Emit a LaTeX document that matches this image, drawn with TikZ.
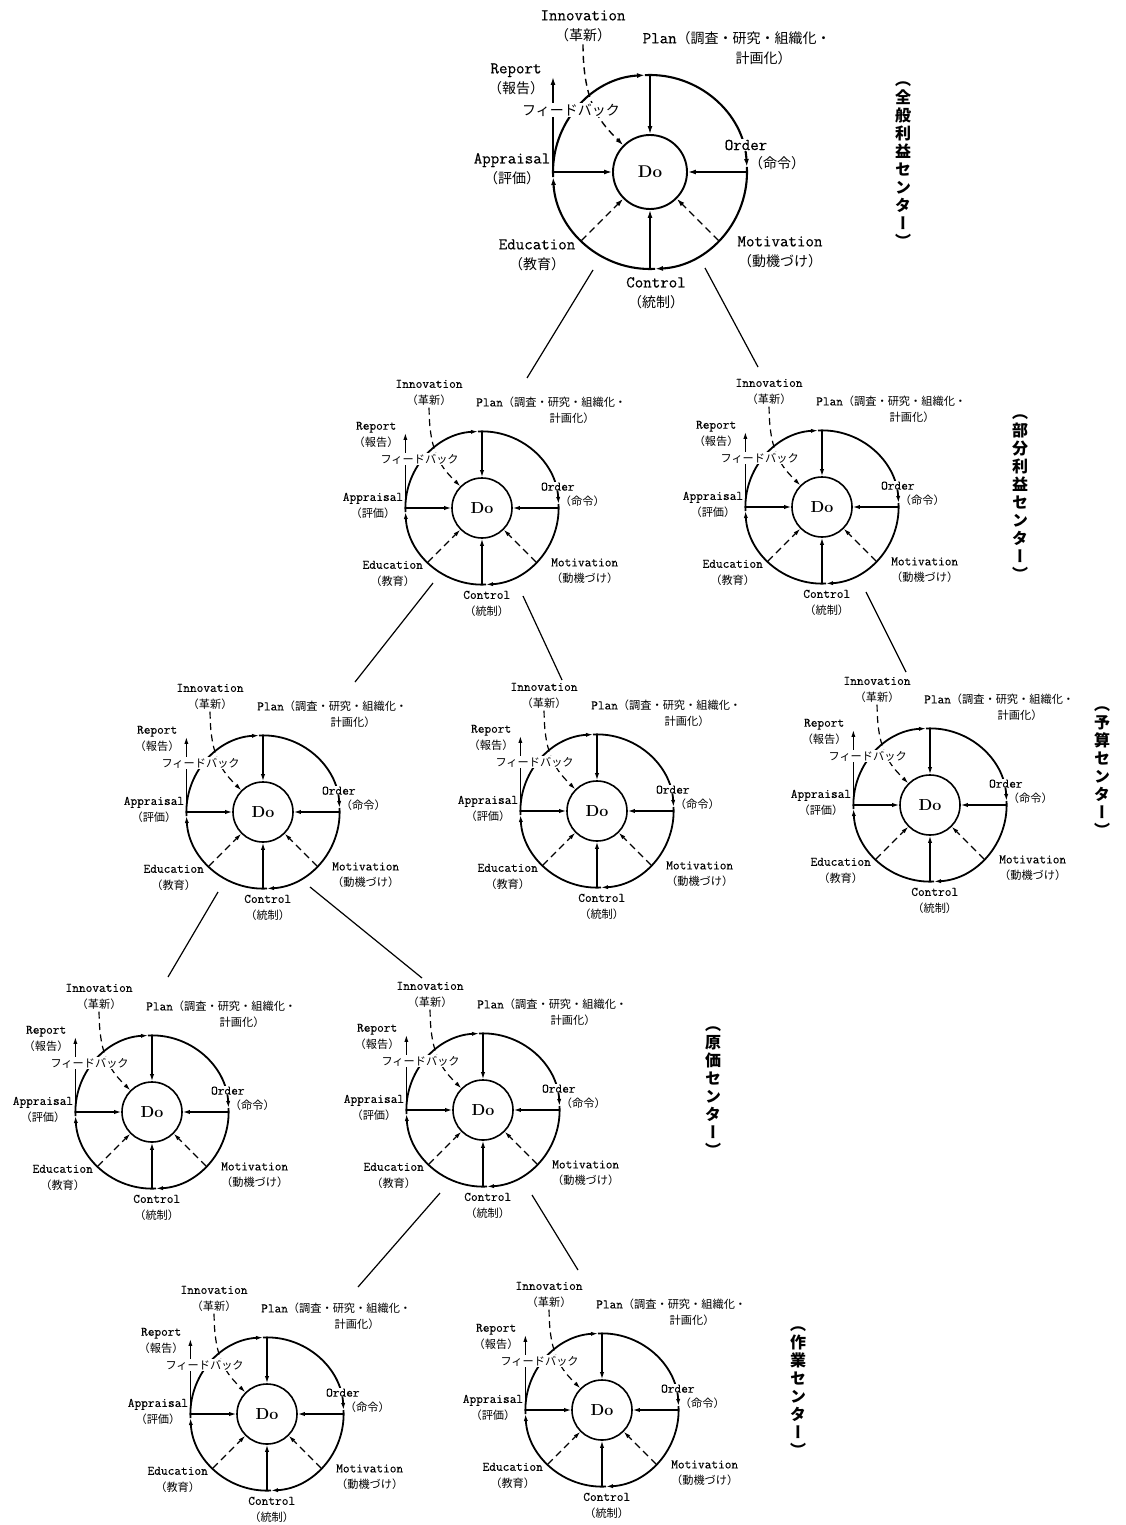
\documentclass[tikz,border=0pt]{standalone}
\usepackage{fontspec}
\usetikzlibrary{arrows.meta}

\newfontfamily\latfont{Latin Modern Mono}[FakeBold=0.4]
\newfontfamily\jpfont{Noto Sans CJK JP}
\newfontfamily\vtfont{Noto Sans CJK JP}[RawFeature=+vert]

\newcommand{\jpsize}{\fontsize{11.2}{16.5}\selectfont}
\newcommand{\jp}[1]{{\jpfont\jpsize #1}}

\tikzset{
    bigunit/.style={
        line width=1.4pt,
        >={Latex[length=8pt,width=5pt]},
        rim/.style={line width=2.1pt},
        do/.style={circle, draw, line width=1.9pt, inner sep=0pt, minimum size=74pt,
            font=\rmfamily\bfseries\fontsize{17}{20}\selectfont},
        every node/.append style={font=\latfont\fontsize{16.5}{20}\selectfont, align=center, inner sep=2pt},
        /utils/exec={\renewcommand{\jpsize}{\fontsize{14}{20}\selectfont}},
    },
    smallunit/.style={
        scale=0.79,
        line width=1.2pt,
        >={Latex[length=7pt,width=4.2pt]},
        rim/.style={line width=1.8pt},
        do/.style={circle, draw, line width=1.6pt, inner sep=0pt, minimum size=60pt,
            font=\rmfamily\bfseries\fontsize{16}{19}\selectfont},
        every node/.append style={font=\latfont\fontsize{13}{16.5}\selectfont, align=center, inner sep=1.5pt},
        /utils/exec={\renewcommand{\jpsize}{\fontsize{11.2}{16.5}\selectfont}},
    },
    broken/.style={dash pattern=on 7pt off 4.5pt},
    vtag/.style={font=\vtfont\bfseries\fontsize{16}{18}\selectfont, align=center, inner sep=0pt},
    branch/.style={line width=1.2pt},
}

% one Plan-Do-See wheel: name, centre x, centre y
\newcommand{\pdunit}[4][smallunit]{%
    \begin{scope}[shift={(#3,#4)}, #1]
        \node[do] (#2) at (0,0) {Do};
        \coordinate (#2-t) at (0,97);
        \coordinate (#2-r) at (97,0);
        \coordinate (#2-b) at (0,-97);
        \coordinate (#2-l) at (-97,0);
        \coordinate (#2-se) at (-45:97);
        \coordinate (#2-sw) at (-135:97);
        \coordinate (#2-rep) at (-97,95);
        % rim, clockwise
        \foreach \a in {93,3,-87,-177}
            \draw[rim,->] (\a:97) arc[start angle=\a, delta angle=-90, radius=97];
        \foreach \p in {t,r,b,l}
            \draw[->] (#2-\p) -- (#2);
        \foreach \p in {se,sw}
            \draw[->,broken] (#2-\p) -- (#2);
        \draw[->] (#2-l) -- (#2-rep);
        % labels
        \node (#2-inno) at (-67,146) {Innovation\\\jp{（革新）}};
        \draw[->,broken] (#2-inno.south) .. controls +(0,-60) and +(-22,22) .. (#2.135);
        \node[fill=white, inner sep=1pt] (#2-fb) at (-79,62) {\jp{フィードバック}};
        \node[anchor=west] (#2-plan) at (-10,134) {Plan\jp{（調査・研究・組織化・}};
        \node[anchor=west] (#2-plan2) at (83,114) {\jp{計画化）}};
        \node (#2-rpt) at (-134,93) {Report\\\jp{（報告）}};
        \node (#2-apr) at (-138,3) {Appraisal\\\jp{（評価）}};
        \node[fill=white, inner sep=0.5pt] (#2-ord) at (96,27) {Order};
        \node (#2-ordjp) at (127,9) {\jp{（命令）}};
        \node (#2-edu) at (-113,-83) {Education\\\jp{（教育）}};
        \node (#2-mot) at (130,-80) {Motivation\\\jp{（動機づけ）}};
        \node (#2-ctl) at (6,-121) {Control\\\jp{（統制）}};
    \end{scope}}

\begin{document}
\begin{tikzpicture}[x=1pt, y=1pt]
    \useasboundingbox (0,0) rectangle (1126,-1525);

    \pdunit[bigunit]{gp}{650}{-172}
    \pdunit{pp1}{482}{-508}
    \pdunit{pp2}{822}{-507}
    \pdunit{bc1}{263}{-812}
    \pdunit{bc2}{597}{-811}
    \pdunit{bc3}{930}{-805}
    \pdunit{cc1}{152}{-1112}
    \pdunit{cc2}{483}{-1110}
    \pdunit{wc1}{267}{-1414}
    \pdunit{wc2}{602}{-1410}

    % tree
    \foreach \s/\e/\sx/\sy/\ex/\ey in {gp/pp1/593/-270/527/-378, gp/pp2/705/-268/758/-367,
            pp1/bc1/433/-583/355/-682, pp1/bc2/523/-596/562/-680, pp2/bc3/866/-592/906/-672,
            bc1/cc1/218/-892/168/-977, bc1/cc2/310/-887/422/-978,
            cc2/wc1/440/-1193/358/-1287, cc2/wc2/532/-1195/578/-1270} {
        \coordinate (\s-to-\e) at (\sx,\sy);
        \coordinate (\e-from-\s) at (\ex,\ey);
        \draw[branch] (\s-to-\e) -- (\e-from-\s);
    }

    % levels
    \node[vtag] (gp-tag) at (903,-165) {（\\全\\般\\利\\益\\セ\\ン\\タ\\ー\\）};
    \node[vtag] (pp-tag) at (1020,-498) {（\\部\\分\\利\\益\\セ\\ン\\タ\\ー\\）};
    \node[vtag] (bc-tag) at (1102,-772) {（\\予\\算\\セ\\ン\\タ\\ー\\）};
    \node[vtag] (cc-tag) at (713,-1092) {（\\原\\価\\セ\\ン\\タ\\ー\\）};
    \node[vtag] (wc-tag) at (798,-1392) {（\\作\\業\\セ\\ン\\タ\\ー\\）};
\end{tikzpicture}
\end{document}
